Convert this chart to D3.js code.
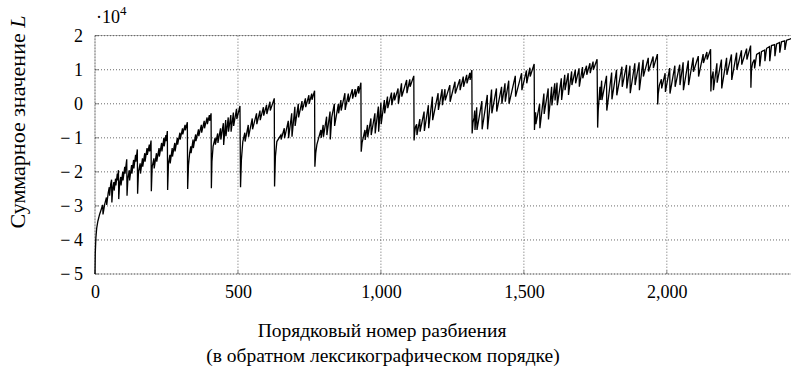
<!DOCTYPE html>
<html>
<head>
<meta charset="utf-8">
<script src="https://cdn.jsdelivr.net/npm/d3@7"></script>
<style>
  body { margin: 0; background: #fff; }
  svg text { font-family: "Liberation Serif", "Times New Roman", "DejaVu Serif", serif !important; fill: #000; }
</style>
</head>
<body>
<svg id="chart" width="791" height="385"></svg>
<script>
// [partition number, summed L / 10^4]
const sumL = [
  [0,-5.0],[1,-4.4],[3,-3.95],[6,-3.65],[10,-3.45],[16,-3.25],[22,-3.1],[27,-2.97],[28,-3.25],[34,-2.95],[40,-2.75],[41,-2.97],[46,-2.62],[50,-2.45],[51,-2.7],[55,-2.35],[58,-2.23],
  [59,-2.9],[62,-2.5],[66,-2.3],[67,-2.55],[72,-2.2],[73,-2.4],[78,-2.05],[79,-2.25],[82,-1.95],
  [83,-2.8],[86,-2.35],[90,-2.15],[91,-2.4],[97,-2.0],[98,-2.25],[104,-1.85],[105,-2.05],[111,-1.63],
  [112,-2.7],[115,-2.2],[120,-1.95],[121,-2.25],[128,-1.8],[129,-2.05],[135,-1.65],[136,-1.9],[142,-1.5],[143,-1.7],[148,-1.34],
  [149,-2.64],[152,-2.0],[158,-1.75],[159,-2.05],[166,-1.6],[167,-1.85],[174,-1.45],[175,-1.7],[182,-1.3],[183,-1.5],[190,-1.2],[191,-1.4],[196,-1.08],
  [197,-2.57],[200,-1.85],[206,-1.6],[207,-1.9],[215,-1.45],[216,-1.7],[224,-1.3],[225,-1.55],[233,-1.15],[234,-1.4],[241,-1.0],[242,-1.25],[248,-0.92],[249,-1.1],[253,-0.8],
  [254,-2.53],[257,-1.75],[262,-1.5],[263,-1.75],[270,-1.3],[271,-1.55],[279,-1.15],[280,-1.4],[288,-1.0],[289,-1.2],[297,-0.85],[298,-1.05],[306,-0.72],[307,-0.9],[315,-0.62],[316,-0.78],[323,-0.54],
  [324,-2.5],[327,-1.8],[331,-1.45],[335,-1.25],[336,-1.45],[343,-1.05],[344,-1.3],[352,-0.9],[353,-1.1],[362,-0.75],[363,-0.95],[372,-0.62],[373,-0.85],[382,-0.5],[383,-0.72],[392,-0.4],[393,-0.6],[400,-0.33],[401,-0.5],[406,-0.28],
  [407,-2.48],[409,-1.7],[413,-1.25],[420,-1.0],[421,-1.2],[429,-0.87],[430,-1.15],[439,-0.72],[440,-1.05],[449,-0.57],[450,-1.21],[457,-0.48],[458,-0.95],[466,-0.4],[467,-0.82],[475,-0.33],[476,-0.82],[484,-0.26],[485,-0.65],[495,-0.15],[496,-0.45],[507,-0.065],
  [509,-2.45],[512,-1.65],[517,-1.11],[524,-0.85],[525,-1.11],[536,-0.62],[537,-0.97],[550,-0.43],[551,-0.75],[565,-0.28],[566,-0.6],[577,-0.2],[578,-0.48],[589,-0.1],[590,-0.35],[600,-0.03],[601,-0.3],[612,0.06],[613,-0.2],[627,0.16],
  [628,-2.43],[631,-1.55],[636,-1.11],[650,-0.92],[651,-1.05],[662,-0.72],[663,-1.01],[676,-0.5],[677,-1.01],[688,-0.28],[689,-0.97],[699,-0.09],[700,-0.65],[711,0.0],[712,-0.4],[724,0.08],[725,-0.2],[736,0.16],[737,-0.1],[748,0.25],[749,0.0],[758,0.3],[759,0.12],[768,0.385],
  [769,-1.85],[772,-1.45],[776,-1.2],[783,-0.98],[790,-0.77],[791,-1.0],[798,-0.62],[799,-0.97],[810,-0.38],[811,-0.92],[822,-0.23],[823,-1.05],[828,-0.4],[837,0.0],[838,-0.65],[851,-0.01],[852,-0.28],[860,0.11],[861,-0.2],[874,0.31],[875,-0.18],[886,0.3],[887,0.05],[900,0.43],[901,0.15],[910,0.43],[911,0.2],[921,0.52],[922,0.3],[930,0.62],
  [931,-1.41],[934,-1.15],[938,-1.0],[944,-0.77],[945,-1.06],[953,-0.62],[954,-0.98],[965,-0.43],[966,-0.92],[979,-0.28],[980,-0.87],[991,-0.08],[992,-0.82],[1000,0.03],[1001,-0.6],[1012,0.11],[1013,-0.28],[1023,0.21],[1024,-0.13],[1037,0.33],[1038,-0.04],[1047,0.33],[1048,0.1],[1060,0.45],[1061,0.0],[1072,0.6],[1073,0.21],[1090,0.7],[1091,0.31],[1101,0.72],[1102,0.5],[1115,0.82],
  [1116,-1.08],[1118,-0.85],[1121,-0.67],[1125,-0.6],[1126,-0.92],[1136,-0.45],[1137,-0.82],[1151,-0.23],[1152,-0.8],[1166,-0.04],[1167,-0.72],[1180,0.21],[1181,-0.48],[1200,0.31],[1201,-0.18],[1214,0.43],[1215,-0.04],[1224,0.43],[1225,0.1],[1241,0.55],[1242,0.06],[1259,0.65],[1260,0.3],[1276,0.72],[1277,0.4],[1288,0.8],[1289,0.5],[1300,0.85],[1301,0.6],[1311,0.91],[1312,0.7],[1318,0.99],
  [1319,-0.87],[1322,-0.55],[1326,-0.4],[1328,-0.2],[1329,-0.77],[1335,-0.1],[1336,-0.77],[1353,0.08],[1354,-0.75],[1372,0.26],[1373,-0.75],[1387,0.42],[1388,-0.28],[1404,0.45],[1405,-0.23],[1422,0.5],[1423,0.0],[1434,0.6],[1435,0.06],[1447,0.68],[1448,0.0],[1470,0.82],[1471,0.21],[1492,0.9],[1493,0.4],[1509,0.98],[1510,0.6],[1521,1.06],[1522,0.8],[1536,1.17],
  [1537,-0.77],[1539,-0.45],[1541,-0.25],[1542,-0.6],[1555,0.0],[1556,-0.72],[1570,0.3],[1571,-0.3],[1585,0.45],[1586,-0.46],[1597,0.5],[1598,-0.05],[1608,0.6],[1609,0.1],[1616,0.62],[1617,-0.04],[1631,0.75],[1632,0.11],[1643,0.85],[1644,0.4],[1655,0.9],[1656,0.26],[1667,0.95],[1668,0.55],[1680,1.0],[1681,0.6],[1693,1.04],[1694,0.5],[1705,1.08],[1706,0.75],[1719,1.12],[1720,0.85],[1731,1.19],[1732,0.9],[1742,1.24],[1743,1.0],[1756,1.31],
  [1758,-0.7],[1760,-0.2],[1763,0.16],[1766,0.5],[1767,0.11],[1772,0.68],[1773,0.11],[1789,0.82],[1790,-0.2],[1807,0.92],[1808,0.13],[1824,1.0],[1825,0.25],[1843,1.09],[1844,0.5],[1859,1.14],[1860,0.45],[1871,1.12],[1872,0.31],[1888,1.19],[1889,0.55],[1903,1.22],[1904,0.4],[1917,1.29],[1918,0.8],[1935,1.35],[1936,0.95],[1952,1.39],[1953,1.05],[1967,1.46],
  [1968,-0.02],[1970,0.3],[1974,0.55],[1981,0.72],[1982,0.45],[1994,0.9],[1995,0.35],[2010,1.05],[2011,0.3],[2028,1.12],[2029,0.5],[2045,1.15],[2046,0.55],[2057,1.22],[2058,0.4],[2075,1.27],[2076,0.55],[2092,1.36],[2093,0.94],[2110,1.4],[2111,0.8],[2127,1.46],[2128,1.2],[2140,1.52],[2141,1.3],[2153,1.6],
  [2154,0.36],[2156,0.7],[2162,0.95],[2163,0.4],[2175,1.19],[2176,0.62],[2191,1.3],[2192,0.45],[2209,1.35],[2210,0.85],[2226,1.45],[2227,0.7],[2244,1.5],[2245,1.0],[2261,1.57],[2262,1.15],[2279,1.62],[2280,1.3],[2293,1.71],
  [2294,0.47],[2296,1.0],[2300,1.2],[2306,1.3],[2307,1.04],[2314,1.45],[2324,1.5],[2325,1.1],[2331,1.53],[2342,1.58],[2343,1.25],[2349,1.63],[2359,1.68],[2360,1.25],[2366,1.71],[2377,1.74],[2378,1.4],[2384,1.76],[2394,1.8],[2395,1.5],[2401,1.82],[2412,1.85],[2413,1.58],[2419,1.87],[2430,1.9],[2436,1.92]
];

const xTicks = [0, 500, 1000, 1500, 2000];
const yTicks = [-5, -4, -3, -2, -1, 0, 1, 2];
const xDomain = [0, 2436];
const yDomain = [-5, 2];
const xTitle = ["Порядковый номер разбиения", "(в обратном лексикографическом порядке)"];
const yTitle = "Суммарное значение ";

const svg = d3.select('#chart').attr('font-family', '"Liberation Serif", serif');
const plotLeft = 95, plotRight = 791.5, plotTop = 35.7, plotBottom = 274;

const x = d3.scaleLinear().domain(xDomain).range([plotLeft, plotRight]);
const y = d3.scaleLinear().domain(yDomain).range([plotBottom, plotTop]);

svg.append('rect').attr('width', 791).attr('height', 385).attr('fill', '#fff');

// frame
svg.append('rect')
  .attr('x', plotLeft).attr('y', plotTop)
  .attr('width', plotRight - plotLeft).attr('height', plotBottom - plotTop)
  .attr('fill', 'none').attr('stroke', '#888').attr('stroke-width', 0.6);

// dotted grid
svg.append('g').selectAll('line').data(xTicks).enter().append('line')
  .attr('x1', d => x(d)).attr('x2', d => x(d))
  .attr('y1', plotTop).attr('y2', plotBottom)
  .attr('stroke', '#444').attr('stroke-width', 0.8).attr('stroke-dasharray', '1,2');
svg.append('g').selectAll('line').data(yTicks).enter().append('line')
  .attr('x1', plotLeft).attr('x2', plotRight)
  .attr('y1', d => y(d)).attr('y2', d => y(d))
  .attr('stroke', '#444').attr('stroke-width', 0.8).attr('stroke-dasharray', '1,2');

// small inner ticks
svg.append('g').selectAll('line').data(yTicks).enter().append('line')
  .attr('x1', plotLeft).attr('x2', plotLeft + 3.5)
  .attr('y1', d => y(d)).attr('y2', d => y(d))
  .attr('stroke', '#555').attr('stroke-width', 0.7);
svg.append('g').selectAll('line').data(xTicks).enter().append('line')
  .attr('x1', d => x(d)).attr('x2', d => x(d))
  .attr('y1', plotBottom).attr('y2', plotBottom - 3.5)
  .attr('stroke', '#555').attr('stroke-width', 0.7);

// axes (labels only)
const xAxis = svg.append('g')
  .attr('transform', `translate(0,${plotBottom})`)
  .call(d3.axisBottom(x).tickValues(xTicks).tickSize(0).tickPadding(11).tickFormat(d3.format(',')));
const yAxis = svg.append('g')
  .attr('transform', `translate(${plotLeft},0)`)
  .call(d3.axisLeft(y).tickValues(yTicks).tickSize(0).tickPadding(12)
    .tickFormat(d => d < 0 ? '\u2212\u2009' + (-d) : d));
[xAxis, yAxis].forEach(a => {
  a.select('.domain').remove();
  a.attr('font-family', null).attr('font-size', null);
  a.selectAll('text').style('font-size', '18px');
});

// line
const line = d3.line().x(d => x(d[0])).y(d => y(d[1]));
svg.append('path')
  .datum(sumL)
  .attr('d', line)
  .attr('fill', 'none')
  .attr('stroke', '#000')
  .attr('stroke-width', 1.3)
  .attr('stroke-linejoin', 'miter');

// multiplier
const mult = svg.append('text').attr('x', 96).attr('y', 23).style('font-size', '18px');
mult.append('tspan').text('\u00b710');
mult.append('tspan').attr('dy', -8).style('font-size', '13px').text('4');

// axis titles
svg.append('text')
  .attr('x', 382).attr('y', 337)
  .attr('text-anchor', 'middle')
  .style('font-size', '19.5px')
  .text(xTitle[0]);
svg.append('text')
  .attr('x', 383).attr('y', 362)
  .attr('text-anchor', 'middle')
  .style('font-size', '19.5px')
  .text(xTitle[1]);

const yt = svg.append('text')
  .attr('transform', 'translate(25,122) rotate(-90)')
  .attr('text-anchor', 'middle')
  .style('font-size', '22px');
yt.append('tspan').text(yTitle);
yt.append('tspan').style('font-style', 'italic').text('L');
</script>
</body>
</html>
